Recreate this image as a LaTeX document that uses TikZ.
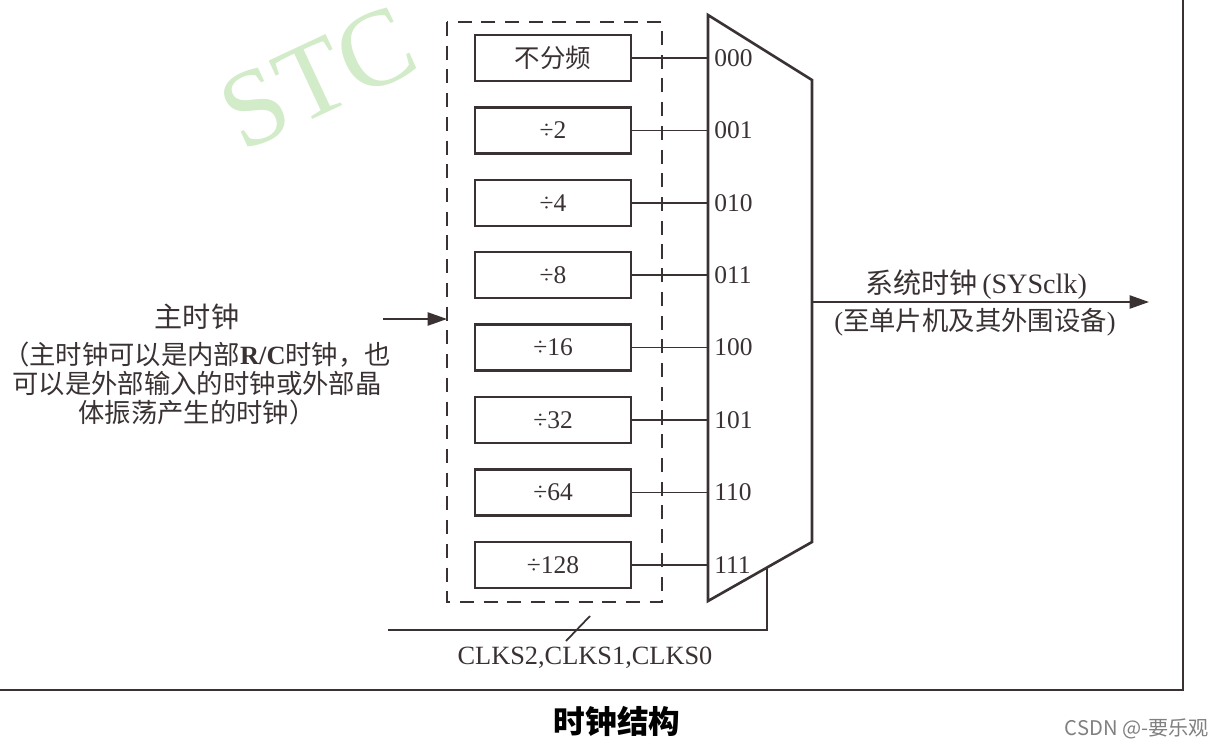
\documentclass[tikz,border=0pt]{standalone}
\usepackage{fontspec}
\setmainfont{Liberation Serif}
\newfontfamily\cjk{Noto Sans CJK SC}
\usetikzlibrary{positioning,arrows.meta}
\definecolor{ink}{RGB}{58,50,50}
\definecolor{wmark}{RGB}{210,235,200}
\begin{document}
\begin{tikzpicture}[x=0.02cm,y=-0.02cm,text=ink,
  divbox/.style={draw=ink,line width=1.3pt,minimum width=3.12cm,minimum height=0.92cm,
    inner sep=0pt,font=\fontsize{14.5}{16}\selectfont},
  sel/.style={anchor=west,inner sep=0pt,font=\fontsize{14.5}{16}\selectfont},
  lbl/.style={inner sep=0pt,font=\fontsize{15}{16.5}\selectfont},
  wire/.style={draw=ink,line width=1pt},
  arr/.style={-{Triangle[length=11pt,width=7.5pt]}}]
  \useasboundingbox (0,0) rectangle (1217,747);
  % watermark
  \node[rotate=25,text=wmark,inner sep=0pt,font=\fontsize{62}{64}\selectfont] (wm) at (318,78) {STC};
  % outer frame
  \coordinate (frbl) at (0,690);
  \coordinate (frbr) at (1183,690);
  \coordinate (frtr) at (1183,0);
  \draw[ink,line width=1.4pt] (frbl) -- (frbr) -- (frtr);
  % multiplexer
  \coordinate (mtl) at (708,15);
  \coordinate (mtr) at (812,80);
  \coordinate (mbr) at (812,542);
  \coordinate (mbl) at (708,601);
  \draw[ink,line width=1.5pt,line join=miter] (mtl) -- (mtr) -- (mbr) -- (mbl) -- cycle;
  % divider group
  \draw[ink,line width=1.1pt,dash pattern=on 8pt off 5.5pt] (447,22) rectangle (662,602);
  \foreach \lab/\code [count=\i from 0] in {{\cjk 不分频}/000,÷2/001,÷4/010,÷8/011,
      ÷16/100,÷32/101,÷64/110,÷128/111} {
    \node[divbox] (d\i) at (553,58+72.4*\i) {\lab};
    \coordinate (m\i) at (708,58+72.4*\i);
    \draw[wire] (d\i.east) -- (m\i);
    \node[sel] (c\i) at (714,58+72.4*\i) {\code};
  }
  % input clock
  \coordinate (inbeg) at (383,319);
  \coordinate (inend) at (447,319);
  \draw[wire,arr] (inbeg) -- (inend);
  \node[lbl,font=\fontsize{16}{18}\selectfont\cjk] (srcname) at (197,317) {主时钟};
  \node[lbl,align=center,font=\fontsize{15}{16.5}\selectfont\cjk] (srcnote) at (197,383)
    {（主时钟可以是内部{\rmfamily\bfseries R/C}时钟，也\\可以是外部输入的时钟或外部晶\\体振荡产生的时钟）};
  % output clock
  \coordinate (mout) at (812,302);
  \coordinate (sysend) at (1149,302);
  \draw[wire,arr] (mout) -- (sysend);
  \node[lbl,font=\fontsize{16}{18}\selectfont] (sysname) at (976,285) {{\cjk 系统时钟}\,(SYSclk)};
  \node[lbl] (sysnote) at (975,322) {({\cjk 至单片机及其外围设备})};
  % select bus
  \coordinate (selbeg) at (388,630);
  \coordinate (selcnr) at (767,630);
  \coordinate (seltop) at (767,567.5);
  \draw[wire] (selbeg) -- (selcnr) -- (seltop);
  \coordinate (slA) at (566,641);
  \coordinate (slB) at (590,616);
  \draw[wire] (slA) -- (slB);
  \node[lbl] (clks) at (585,658) {CLKS2,CLKS1,CLKS0};
  % caption
  \node[inner sep=0pt,text=black,font=\fontsize{18}{20}\selectfont\cjk\bfseries] (cap) at (617,721) {时钟结构};
  \node[inner sep=0pt,text=black!50,font=\fontsize{11.5}{13}\selectfont\cjk] (csdn) at (1137,729) {CSDN @-要乐观};
\end{tikzpicture}
\end{document}
